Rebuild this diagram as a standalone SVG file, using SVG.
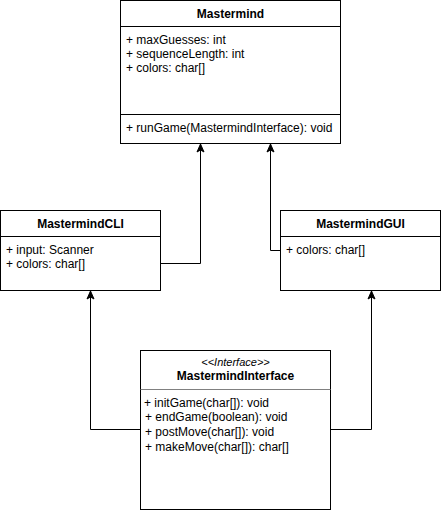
<svg xmlns="http://www.w3.org/2000/svg" width="441" height="511" viewBox="0 0 441 511">
<style>
.box{fill:#fff;stroke:#000;stroke-width:1}
.sep{stroke:#000;stroke-width:1}
.sepg{stroke:#808080;stroke-width:1}
.t{font-family:"Liberation Sans",Arial,sans-serif;font-size:12px;fill:#000}
.b{font-weight:bold;text-anchor:middle}
.i{font-style:italic;text-anchor:middle;font-size:11px}
.edge{fill:none;stroke:#000;stroke-width:1}
</style>
<defs>
<marker id="arr" markerUnits="userSpaceOnUse" markerWidth="12" markerHeight="12" viewBox="-10 -6 12 12" refX="0" refY="0" orient="auto">
<path d="M0,0 L-8,-3.5 L-6,0 L-8,3.5 Z" fill="#000" stroke="#000" stroke-width="1"/>
</marker>
</defs>
<rect width="441" height="511" fill="#fff"/>
<g id="connectors">
<path class="edge" d="M160.5 263.5 H200.5 V144" marker-end="url(#arr)"/>
<path class="edge" d="M280.5 250.5 H270.5 V144" marker-end="url(#arr)"/>
<path class="edge" d="M140.5 429.5 H90.5 V291" marker-end="url(#arr)"/>
<path class="edge" d="M330.5 429.5 H371.5 V291" marker-end="url(#arr)"/>
</g>
<g id="Mastermind">
<rect class="box" x="120.5" y="0.5" width="220" height="143"/>
<line class="sep" x1="120.5" y1="26.5" x2="340.5" y2="26.5"/>
<line class="sep" x1="120.5" y1="114.5" x2="340.5" y2="114.5"/>
<text class="t b" x="230.5" y="17.5">Mastermind</text>
<text class="t" x="126" y="43.5">+ maxGuesses: int</text>
<text class="t" x="126" y="57.5">+ sequenceLength: int</text>
<text class="t" x="126" y="71.5">+ colors: char[]</text>
<text class="t" x="126" y="132">+ runGame(MastermindInterface): void</text>
</g>
<g id="MastermindCLI">
<rect class="box" x="0.5" y="210.5" width="160" height="80"/>
<line class="sep" x1="0.5" y1="236.5" x2="160.5" y2="236.5"/>
<text class="t b" x="80.5" y="227.5">MastermindCLI</text>
<text class="t" x="6" y="253.5">+ input: Scanner</text>
<text class="t" x="6" y="267.5">+ colors: char[]</text>
</g>
<g id="MastermindGUI">
<rect class="box" x="280.5" y="210.5" width="160" height="80"/>
<line class="sep" x1="280.5" y1="236.5" x2="440.5" y2="236.5"/>
<text class="t b" x="360.5" y="227.5">MastermindGUI</text>
<text class="t" x="286" y="253.5">+ colors: char[]</text>
</g>
<g id="MastermindInterface">
<rect class="box" x="140.5" y="350.5" width="190" height="159"/>
<line class="sepg" x1="140.5" y1="389.5" x2="330.5" y2="389.5"/>
<text class="t i" x="235.5" y="365.5">&lt;&lt;Interface&gt;&gt;</text>
<text class="t b" x="235.5" y="379.5">MastermindInterface</text>
<text class="t" x="144" y="406.5">+ initGame(char[]): void</text>
<text class="t" x="145" y="421">+ endGame(boolean): void</text>
<text class="t" x="145" y="436">+ postMove(char[]): void</text>
<text class="t" x="145" y="450.5">+ makeMove(char[]): char[]</text>
</g>
</svg>
